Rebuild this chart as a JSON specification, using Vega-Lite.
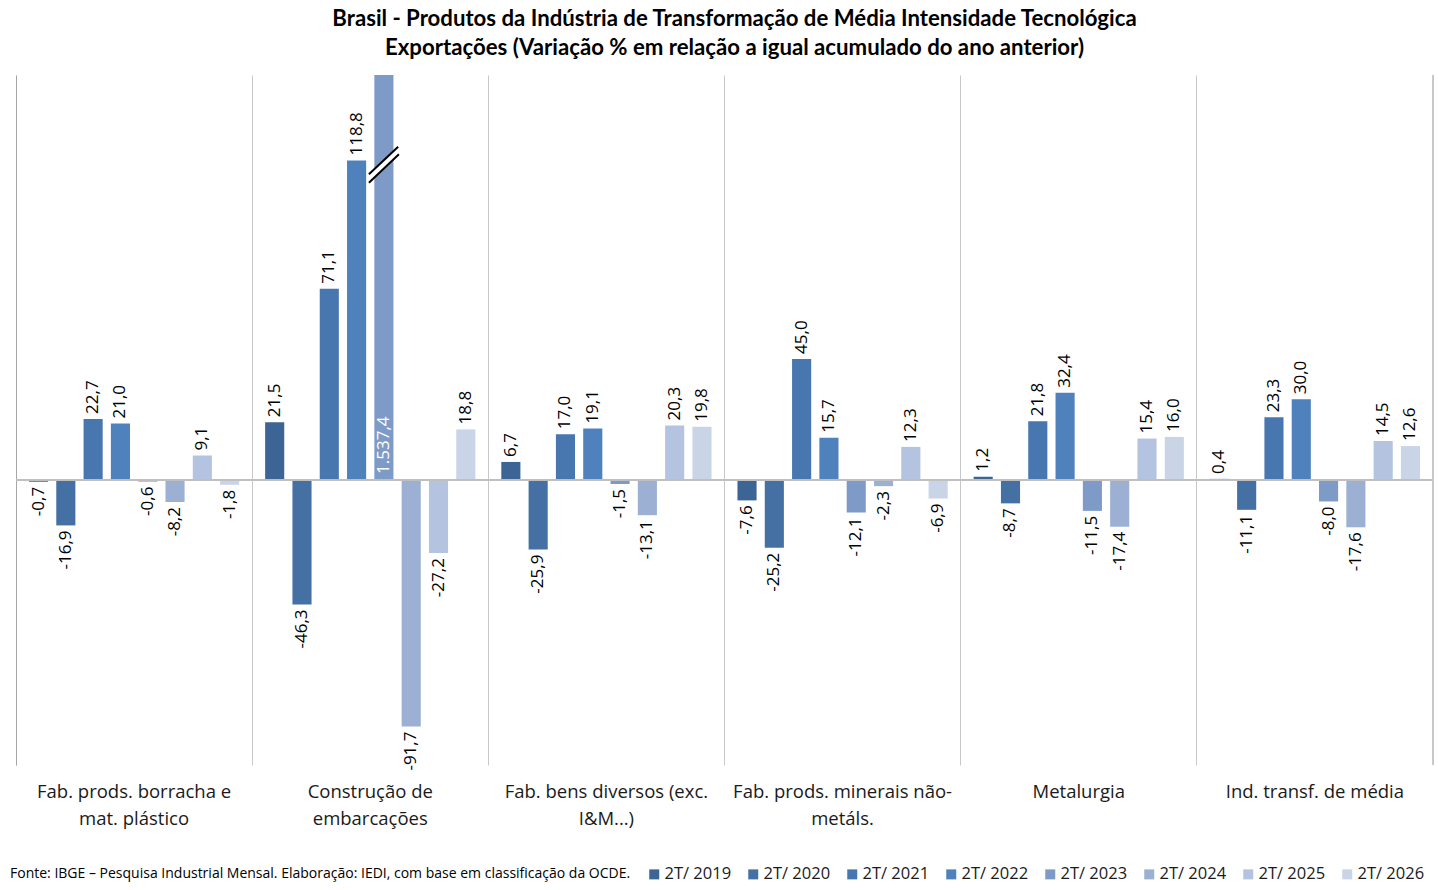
{
  "$schema": "https://vega.github.io/schema/vega-lite/v6.json",
  "autosize": "none",
  "padding": {"left": 16, "top": 75, "right": 5, "bottom": 125},
  "width": 1417,
  "height": 690,
  "background": "white",
  "title": {
    "text": [
      "Brasil - Produtos da Indústria de Transformação de Média Intensidade Tecnológica",
      "Exportações (Variação % em relação a igual acumulado do ano anterior)"
    ],
    "font": "Lato",
    "fontSize": 22.2,
    "fontWeight": "bold",
    "color": "black",
    "anchor": "middle",
    "dx": 10,
    "offset": 15,
    "lineHeight": 29
  },
  "data": {
    "values": [
      {"setor": "Fab. prods. borracha e mat. plástico", "periodo": "2T/ 2019", "valor": -0.7},
      {"setor": "Fab. prods. borracha e mat. plástico", "periodo": "2T/ 2020", "valor": -16.9},
      {"setor": "Fab. prods. borracha e mat. plástico", "periodo": "2T/ 2021", "valor": 22.7},
      {"setor": "Fab. prods. borracha e mat. plástico", "periodo": "2T/ 2022", "valor": 21.0},
      {"setor": "Fab. prods. borracha e mat. plástico", "periodo": "2T/ 2023", "valor": -0.6},
      {"setor": "Fab. prods. borracha e mat. plástico", "periodo": "2T/ 2024", "valor": -8.2},
      {"setor": "Fab. prods. borracha e mat. plástico", "periodo": "2T/ 2025", "valor": 9.1},
      {"setor": "Fab. prods. borracha e mat. plástico", "periodo": "2T/ 2026", "valor": -1.8},
      {"setor": "Construção de embarcações", "periodo": "2T/ 2019", "valor": 21.5},
      {"setor": "Construção de embarcações", "periodo": "2T/ 2020", "valor": -46.3},
      {"setor": "Construção de embarcações", "periodo": "2T/ 2021", "valor": 71.1},
      {"setor": "Construção de embarcações", "periodo": "2T/ 2022", "valor": 118.8},
      {"setor": "Construção de embarcações", "periodo": "2T/ 2023", "valor": 1537.4},
      {"setor": "Construção de embarcações", "periodo": "2T/ 2024", "valor": -91.7},
      {"setor": "Construção de embarcações", "periodo": "2T/ 2025", "valor": -27.2},
      {"setor": "Construção de embarcações", "periodo": "2T/ 2026", "valor": 18.8},
      {"setor": "Fab. bens diversos (exc. I&M...)", "periodo": "2T/ 2019", "valor": 6.7},
      {"setor": "Fab. bens diversos (exc. I&M...)", "periodo": "2T/ 2020", "valor": -25.9},
      {"setor": "Fab. bens diversos (exc. I&M...)", "periodo": "2T/ 2021", "valor": 17.0},
      {"setor": "Fab. bens diversos (exc. I&M...)", "periodo": "2T/ 2022", "valor": 19.1},
      {"setor": "Fab. bens diversos (exc. I&M...)", "periodo": "2T/ 2023", "valor": -1.5},
      {"setor": "Fab. bens diversos (exc. I&M...)", "periodo": "2T/ 2024", "valor": -13.1},
      {"setor": "Fab. bens diversos (exc. I&M...)", "periodo": "2T/ 2025", "valor": 20.3},
      {"setor": "Fab. bens diversos (exc. I&M...)", "periodo": "2T/ 2026", "valor": 19.8},
      {"setor": "Fab. prods. minerais não-metáls.", "periodo": "2T/ 2019", "valor": -7.6},
      {"setor": "Fab. prods. minerais não-metáls.", "periodo": "2T/ 2020", "valor": -25.2},
      {"setor": "Fab. prods. minerais não-metáls.", "periodo": "2T/ 2021", "valor": 45.0},
      {"setor": "Fab. prods. minerais não-metáls.", "periodo": "2T/ 2022", "valor": 15.7},
      {"setor": "Fab. prods. minerais não-metáls.", "periodo": "2T/ 2023", "valor": -12.1},
      {"setor": "Fab. prods. minerais não-metáls.", "periodo": "2T/ 2024", "valor": -2.3},
      {"setor": "Fab. prods. minerais não-metáls.", "periodo": "2T/ 2025", "valor": 12.3},
      {"setor": "Fab. prods. minerais não-metáls.", "periodo": "2T/ 2026", "valor": -6.9},
      {"setor": "Metalurgia", "periodo": "2T/ 2019", "valor": 1.2},
      {"setor": "Metalurgia", "periodo": "2T/ 2020", "valor": -8.7},
      {"setor": "Metalurgia", "periodo": "2T/ 2021", "valor": 21.8},
      {"setor": "Metalurgia", "periodo": "2T/ 2022", "valor": 32.4},
      {"setor": "Metalurgia", "periodo": "2T/ 2023", "valor": -11.5},
      {"setor": "Metalurgia", "periodo": "2T/ 2024", "valor": -17.4},
      {"setor": "Metalurgia", "periodo": "2T/ 2025", "valor": 15.4},
      {"setor": "Metalurgia", "periodo": "2T/ 2026", "valor": 16.0},
      {"setor": "Ind. transf. de média", "periodo": "2T/ 2019", "valor": 0.4},
      {"setor": "Ind. transf. de média", "periodo": "2T/ 2020", "valor": -11.1},
      {"setor": "Ind. transf. de média", "periodo": "2T/ 2021", "valor": 23.3},
      {"setor": "Ind. transf. de média", "periodo": "2T/ 2022", "valor": 30.0},
      {"setor": "Ind. transf. de média", "periodo": "2T/ 2023", "valor": -8.0},
      {"setor": "Ind. transf. de média", "periodo": "2T/ 2024", "valor": -17.6},
      {"setor": "Ind. transf. de média", "periodo": "2T/ 2025", "valor": 14.5},
      {"setor": "Ind. transf. de média", "periodo": "2T/ 2026", "valor": 12.6}
    ]
  },
  "encoding": {
    "x": {
      "field": "setor",
      "type": "nominal",
      "sort": null,
      "title": null,
      "scale": {"paddingInner": 0, "paddingOuter": 0},
      "axis": {
        "orient": "bottom",
        "grid": true,
        "gridColor": "#C8C8C8",
        "gridWidth": 1,
        "bandPosition": 0,
        "ticks": false,
        "domain": false,
        "labelAngle": 0,
        "labelFont": "Open Sans",
        "labelFontSize": 18.5,
        "labelColor": "#1a1a1a",
        "labelPadding": 17,
        "labelLineHeight": 27,
        "labelBaseline": "top",
        "labelLimit": 0,
        "labelExpr": "datum.label == 'Fab. prods. borracha e mat. plástico' ? ['Fab. prods. borracha e', 'mat. plástico'] : datum.label == 'Construção de embarcações' ? ['Construção de', 'embarcações'] : datum.label == 'Fab. bens diversos (exc. I&M...)' ? ['Fab. bens diversos (exc.', 'I&M...)'] : datum.label == 'Fab. prods. minerais não-metáls.' ? ['Fab. prods. minerais não-', 'metáls.'] : datum.label"
      }
    },
    "xOffset": {
      "field": "periodo",
      "type": "nominal",
      "scale": {"paddingInner": 0.3, "paddingOuter": 0.475}
    },
    "y": {
      "field": "valor",
      "type": "quantitative",
      "title": null,
      "scale": {"domain": [-106, 150.6], "nice": false, "zero": false, "clamp": true},
      "axis": {"labels": false, "ticks": false, "grid": false, "domain": true, "domainColor": "#A6A6A6"}
    }
  },
  "layer": [
    {
      "mark": {"type": "bar"},
      "encoding": {
        "color": {
          "field": "periodo",
          "type": "nominal",
          "scale": {
            "domain": ["2T/ 2019", "2T/ 2020", "2T/ 2021", "2T/ 2022", "2T/ 2023", "2T/ 2024", "2T/ 2025", "2T/ 2026"],
            "range": ["#3C6494", "#4470A4", "#4876AE", "#4F81BD", "#7E9BC8", "#9CB0D3", "#B4C3DF", "#CAD4E7"]
          },
          "legend": {
            "orient": "none",
            "legendX": -6,
            "legendY": 791,
            "direction": "horizontal",
            "columns": 8,
            "title": "Fonte: IBGE – Pesquisa Industrial Mensal. Elaboração: IEDI, com base em classificação da OCDE.",
            "titleOrient": "left",
            "titleFont": "Open Sans",
            "titleFontSize": 14,
            "titleFontWeight": "normal",
            "titleColor": "black",
            "titleLimit": 0,
            "titleBaseline": "middle",
            "titlePadding": 15,
            "labelFont": "Open Sans",
            "labelFontSize": 16.5,
            "labelColor": "#1a1a1a",
            "labelOffset": 2,
            "columnPadding": 13,
            "symbolType": "square",
            "symbolSize": 100,
            "symbolStrokeWidth": 0,
            "symbolOpacity": 1
          }
        }
      }
    },
    {
      "mark": {"type": "rule", "color": "#BFBFBF", "strokeWidth": 1},
      "encoding": {"y": {"datum": 0}, "x": null, "xOffset": null}
    },
    {
      "mark": {"type": "rule", "color": "#C8C8C8", "strokeWidth": 1},
      "encoding": {"x": {"datum": "Ind. transf. de média", "bandPosition": 1}, "y": null, "xOffset": null}
    },
    {
      "transform": [{"filter": "datum.valor >= 0 && datum.valor < 150"}],
      "mark": {"type": "text", "angle": 270, "align": "left", "baseline": "middle", "dx": 5, "font": "Open Sans", "fontSize": 17, "color": "black"},
      "encoding": {"text": {"field": "valor", "type": "quantitative", "format": ",.1f"}}
    },
    {
      "transform": [{"filter": "datum.valor < 0"}],
      "mark": {"type": "text", "angle": 270, "align": "right", "baseline": "middle", "dx": -5, "font": "Open Sans", "fontSize": 17, "color": "black"},
      "encoding": {"text": {"field": "valor", "type": "quantitative", "format": ",.1f"}}
    },
    {
      "transform": [{"filter": "datum.valor >= 150"}],
      "mark": {"type": "text", "angle": 270, "align": "left", "baseline": "middle", "dx": 6, "font": "Open Sans", "fontSize": 17, "color": "white"},
      "encoding": {
        "y": {"datum": 0},
        "text": {"field": "valor", "type": "quantitative", "format": ",.1f"}
      }
    },
    {
      "transform": [{"filter": "datum.valor >= 150"}],
      "mark": {"type": "point", "shape": "M-1,0.65L0.95,-1.19L1,-0.68L-1,1.21Z", "size": 900, "filled": true, "fill": "white", "opacity": 1, "strokeWidth": 0},
      "encoding": {"y": {"datum": 117.3}}
    },
    {
      "transform": [{"filter": "datum.valor >= 150"}],
      "mark": {"type": "point", "shape": "M-1,0.65L0.95,-1.19M-1,1.21L1,-0.68", "size": 900, "filled": false, "stroke": "black", "strokeWidth": 2, "opacity": 1},
      "encoding": {"y": {"datum": 117.3}}
    }
  ],
  "config": {
    "view": {"stroke": null},
    "locale": {
      "number": {"decimal": ",", "thousands": ".", "grouping": [3], "currency": ["R$", ""], "minus": "-"}
    }
  }
}
